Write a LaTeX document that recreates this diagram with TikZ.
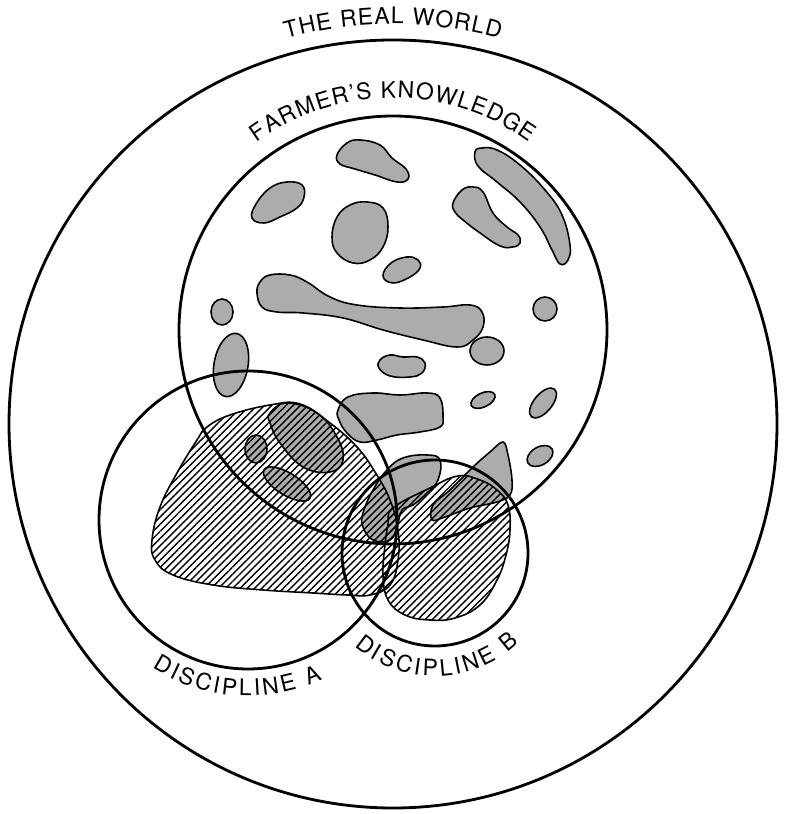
\documentclass[tikz,border=0pt]{standalone}
\usepackage{fontspec}
\setmainfont{TeX Gyre Heros}
\usepackage{tikz}
\usetikzlibrary{patterns.meta,decorations.text}
\definecolor{BlobGray}{RGB}{172,172,172}
\newcommand\ringfont{\fontsize{13}{15}\selectfont}

\begin{document}
\begin{tikzpicture}[
    x=0.02cm, y=0.02cm,
    ring/.style={line width=1.6pt},
    blob/.style={draw, line width=0.9pt, fill=BlobGray},
    hatch/.style={
        draw,
        line width=0.9pt,
        pattern={Lines[angle=45,distance=2.9pt,line width=0.8pt]}
    },
    ringlabel/.style={
        decorate,
        decoration={text along path, text={|\ringfont|#1}, text align={fit to path}}
    }
]
\useasboundingbox (0,0) rectangle (785,814);

\coordinate (world) at (393,390);
\coordinate (farmer) at (393,484);
\coordinate (discA) at (248,294);
\coordinate (discB) at (435,261);

% farmer's knowledge patches
\draw[blob] plot[smooth cycle, tension=0.7] coordinates {(337,659) (347,671) (360,674) (380,669) (392,656) (406,645) (408,635) (397,632) (375,639) (355,645) (340,650)};
\draw[blob] plot[smooth cycle, tension=0.7] coordinates {(475,662) (482,666) (497,664) (520,649) (545,624) (562,599) (570,569) (568,554) (560,550) (552,564) (540,587) (520,612) (497,632) (478,648)};
\draw[blob] plot[smooth cycle, tension=0.7] coordinates {(453,611) (462,624) (473,627) (483,622) (493,601) (507,587) (518,579) (520,571) (513,567) (500,568) (480,581) (463,594) (455,602)};
\draw[blob] plot[smooth cycle, tension=0.7] coordinates {(252,596) (256,610) (270,626) (287,632) (302,629) (304,617) (297,606) (280,597) (264,591)};
\draw[blob] plot[smooth cycle, tension=0.7] coordinates {(332,577) (337,597) (350,609) (367,612) (383,606) (388,587) (383,567) (370,554) (353,551) (337,561)};
\draw[blob] plot[smooth cycle, tension=0.7] coordinates {(383,538) (391,551) (407,557) (418,554) (420,546) (410,537) (393,531)};
\draw[blob] plot[smooth cycle, tension=0.7] coordinates {(257,521) (260,532) (270,539) (290,539) (307,532) (330,517) (357,509) (400,506) (443,507) (470,509) (482,502) (483,487) (473,474) (457,467) (423,474) (383,484) (343,496) (303,501) (277,502) (262,507)};
\draw[blob] (487,463) ellipse (17 and 14);
\draw[blob] (222,502) ellipse (11 and 13);
\draw[blob] (545,505) circle (12);
\draw[blob, rotate around={-10:(231,449)}] (231,449) ellipse (17 and 32);
\draw[blob] plot[smooth cycle, tension=0.7] coordinates {(380,454) (390,459) (403,457) (417,457) (425,451) (422,441) (410,437) (390,438) (379,446)};
\draw[blob, rotate around={25:(483,414)}] (483,414) ellipse (13 and 7);
\draw[blob, rotate around={50:(543,411)}] (543,411) ellipse (18 and 9);
\draw[blob, rotate around={30:(540,358)}] (540,358) ellipse (14 and 9);
\draw[blob] plot[smooth cycle, tension=0.7] coordinates {(338,404) (348,417) (373,421) (400,419) (427,421) (440,416) (443,397) (440,387) (420,382) (397,379) (377,374) (360,372) (347,381) (339,394)};
\draw[blob] plot[smooth cycle, tension=0.7] coordinates {(270,401) (287,411) (317,401) (337,377) (343,354) (330,342) (303,347) (280,371) (270,391)};
\draw[blob] (256,365) ellipse (11 and 14);
\draw[blob, rotate around={-32:(287,330)}] (287,330) ellipse (27 and 11);
\draw[blob] plot[smooth cycle, tension=0.7] coordinates {(363,301) (373,324) (387,344) (403,356) (427,359) (440,354) (438,334) (427,321) (413,309) (402,304) (397,287) (390,274) (373,274) (363,287)};
\draw[blob] plot[smooth cycle, tension=0.6] coordinates {(432,294) (433,309) (450,324) (473,347) (490,362) (503,372) (508,359) (512,334) (510,319) (497,312) (470,306) (445,297)};

% disciplinary knowledge
\draw[hatch] plot[smooth cycle, tension=0.7] coordinates {(207,387) (230,399) (270,409) (300,410) (330,391) (357,367) (375,342) (390,314) (398,284) (398,254) (390,229) (370,219) (347,219) (313,221) (263,224) (213,229) (173,239) (155,254) (152,274) (160,307) (177,341) (197,374)};
\draw[hatch] plot[smooth cycle, tension=0.7] coordinates {(393,306) (430,326) (458,338) (480,334) (497,324) (508,309) (510,284) (506,259) (497,234) (480,209) (455,196) (430,194) (405,199) (388,214) (383,239) (385,269) (388,289)};

% the four rings
\draw[ring] (world) circle (384);
\draw[ring] (farmer) circle (214);
\draw[ring] (discA) circle (149);
\draw[ring] (discB) circle (93);

\path[ringlabel={THE REAL WORLD}] ([shift={(105.5:400)}]world) arc[start angle=105.5, end angle=74.5, radius=400];
\path[ringlabel={FARMER'S KNOWLEDGE}] ([shift={(126:232)}]farmer) arc[start angle=126, end angle=54, radius=232];
\path[ringlabel={DISCIPLINE A}] ([shift={(237:176)}]discA) arc[start angle=237, end angle=295, radius=176];
\path[ringlabel={DISCIPLINE B}] ([shift={(229:123)}]discB) arc[start angle=229, end angle=313, radius=123];

\end{tikzpicture}
\end{document}
